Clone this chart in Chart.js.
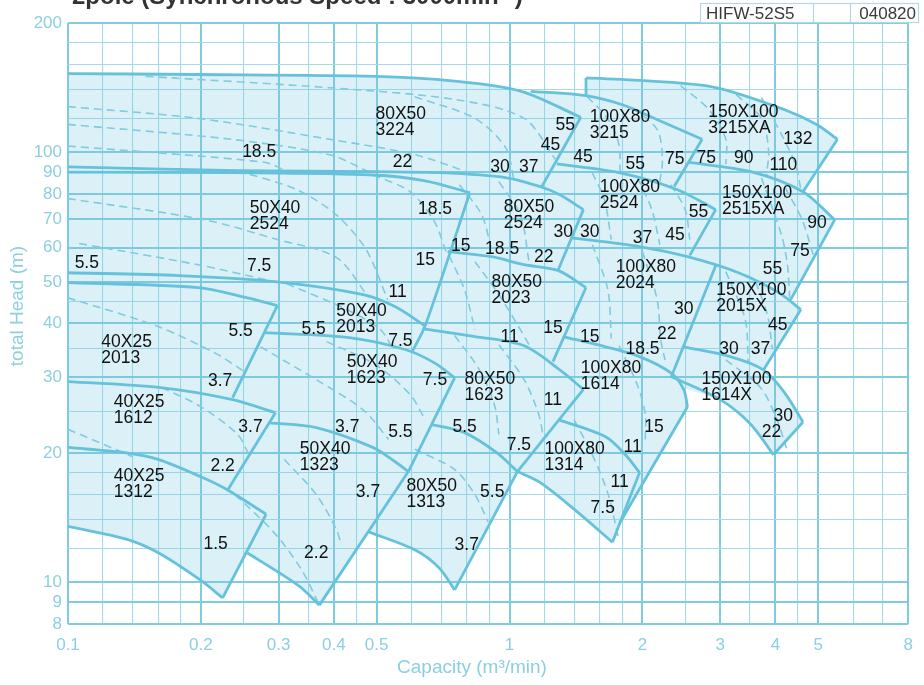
<!DOCTYPE html>
<html>
<head>
<meta charset="utf-8">
<script src="https://cdn.jsdelivr.net/npm/chart.js@4.4.1/dist/chart.umd.min.js"></script>
<style>
html,body{margin:0;padding:0;background:#fff;}
#wrap{width:924px;height:685px;position:relative;}
</style>
</head>
<body>
<div id="wrap"><canvas id="c" width="924" height="685"></canvas></div>
<script>
// axis grid (capacity m3/min, head m)
const xGrid = [0.1,0.12,0.14,0.16,0.18,0.2,0.25,0.3,0.35,0.4,0.45,0.5,0.6,0.7,0.8,0.9,1,1.2,1.4,1.6,1.8,2,2.5,3,3.5,4,4.5,5,6,7,8];
const xLabeled = [0.1,0.2,0.3,0.4,0.5,1,2,3,4,5,8];
const yGrid = [8,9,10,12,14,16,18,20,25,30,35,40,45,50,60,70,80,90,100,120,140,160,180,200];
const yLabeled = [8,9,10,20,30,40,50,60,70,80,90,100,200];

// pump range outlines [Q, H]
const top3224 = [[0.1,152.5],[0.197,151.8],[0.497,150.3],[0.751,146.5],[1.063,138.7],[1.45,120.7]];
const right3224 = [[1.45,120.7],[1.18,82.8]];
const bot3224 = [[0.1,92.5],[0.242,90.7],[0.497,90.2],[0.7,89.7],[0.985,87.3],[1.18,83.1],[1.3,79.7],[1.47,73.6]];
const top5040_2524 = [[0.1,90.0],[0.242,89.7],[0.49,88.6],[0.644,85.9],[0.813,80.6]];
const right5040_2524 = [[0.813,80.6],[0.644,39.5],[0.6,34.2]];
const bot5040_2524 = [[0.1,52.5],[0.178,51.7],[0.298,50.0],[0.466,46.7],[0.55,43.8],[0.644,39.5]];
const top4025_2013 = [[0.1,49.8],[0.197,48.5],[0.255,45.9],[0.298,44.0]];
const right4025_2013 = [[0.298,44.0],[0.236,26.9]];
const bot4025_2013 = [[0.1,29.3],[0.1605,28.4],[0.236,26.6],[0.295,24.8]];
const right4025_1612 = [[0.295,24.8],[0.23,16.4]];
const bot4025_1612 = [[0.1,20.6],[0.1355,20.0],[0.1605,19.3],[0.2,17.6],[0.23,16.4],[0.281,14.4]];
const right4025_1312 = [[0.281,14.4],[0.224,9.2]];
const bot4025_1312 = [[0.1,13.5],[0.1355,12.6],[0.1605,11.7],[0.2,10.1],[0.224,9.2]];
const bot5040_2013 = [[0.278,38.1],[0.433,37.1],[0.58,34.8],[0.676,32.4],[0.751,29.9]];
const right5040_1623 = [[0.751,29.9],[0.59,18.1]];
const bot5040_1623 = [[0.286,23.5],[0.365,22.9],[0.49,20.6],[0.55,19.1],[0.59,18.1]];
const right5040_1323 = [[0.59,18.1],[0.371,8.85]];
const bot5040_1323 = [[0.255,11.7],[0.302,10.5],[0.338,9.7],[0.371,8.85]];
const right8050_2524 = [[1.47,73.6],[1.29,53.4]];
const bot8050_2524 = [[0.724,58.8],[0.91,57.2],[1.079,54.8],[1.29,53.1],[1.49,48.5]];
const right8050_2023 = [[1.49,48.5],[1.254,32.6]];
const bot8050_2023 = [[0.635,38.9],[0.835,37.3],[1.079,35.5],[1.3,31.2],[1.47,28.1]];
const right8050_1623 = [[1.47,28.1],[1.042,18.1]];
const bot8050_1623 = [[0.664,23.3],[0.791,22.3],[0.937,20.0],[1.042,18.1]];
const right8050_1313 = [[1.042,18.1],[0.751,9.6]];
const bot8050_1313 = [[0.48,13.1],[0.61,11.9],[0.693,10.8],[0.751,9.6]];
const top10080_3215 = [[1.117,138.7],[1.49,135.5],[1.8,129.1],[2.1,120.7],[2.73,107.3]];
const right10080_3215 = [[2.73,107.3],[2.36,83.3]];
const bot10080_3215 = [[1.28,94.0],[1.77,89.7],[2.4,81.9],[2.93,73.6]];
const right10080_2524 = [[2.93,73.6],[2.56,57.6]];
const bot10080_2524 = [[1.38,63.3],[1.97,60.4],[2.53,57.2],[3.3,52.5],[4.07,47.2],[4.57,43.1]];
const right10080_2024 = [[2.93,54.5],[2.32,29.9]];
const bot10080_2024 = [[1.32,37.3],[1.65,35.3],[1.97,33.5],[2.32,30.7],[2.48,28.1],[2.53,25.6]];
const right10080_1614 = [[2.53,25.6],[1.78,13.8]];
const bot10080_1614 = [[1.29,23.9],[1.65,21.8],[1.83,19.8],[1.97,18.0]];
const right10080_1314 = [[1.97,18.0],[1.71,12.4]];
const bot10080_1314 = [[1.042,18.1],[1.17,17.1],[1.4,14.8],[1.71,12.4]];
const left150_3215 = [[1.49,135.5],[1.49,149.0]];
const top150_3215 = [[1.49,149.0],[2.1,146.5],[2.93,141.5],[4.2,125.7],[4.97,116],[5.53,107.3]];
const right150_3215 = [[5.53,107.3],[4.62,81.0]];
const bot150_3215 = [[2.53,94.9],[3.52,90.2],[4.62,81.0],[5.45,69.7]];
const right150_2515 = [[5.45,69.7],[4.33,45.4]];
const right150_2015 = [[4.57,43.1],[3.76,31.2]];
const bot150_2015 = [[2.48,35.3],[3.16,33.5],[3.76,31.2],[4.2,27.6],[4.62,23.6]];
const right150_1614 = [[4.62,23.6],[3.96,19.8]];
const bot150_1614 = [[2.32,30.1],[3.0,26.6],[3.52,23.3],[3.96,19.8]];

// whole shaded area
const shaded = [[0.1,152.5],[0.197,151.8],[0.497,150.3],[0.751,146.5],[1.063,138.7],[1.117,138.7],[1.49,135.5],
  [1.49,149.0],[2.1,146.5],[2.93,141.5],[4.2,125.7],[4.97,116],[5.53,107.3],[4.62,81.0],[5.45,69.7],[4.33,45.4],
  [4.57,43.1],[3.76,31.2],[4.2,27.6],[4.62,23.6],[3.96,19.8],[3.52,23.3],[3.0,26.6],[2.48,28.3],[2.53,25.6],
  [1.78,13.8],[1.71,12.4],[1.4,14.8],[1.17,17.1],[1.042,18.1],[0.751,9.6],[0.693,10.8],[0.61,11.9],[0.48,13.1],
  [0.371,8.85],[0.338,9.7],[0.302,10.5],[0.255,11.7],[0.224,9.2],[0.2,10.1],[0.1605,11.7],[0.1355,12.6],[0.1,13.5]];

// motor kW boundaries (dashed)
const dA3224 = [[0.150,150.3],[0.391,141.4],[0.751,132.8],[1.079,120],[1.27,96.4]];
const dB3224 = [[0.1,127.8],[0.197,120],[0.391,107.3],[0.61,98.8],[0.835,88.8]];
const dC3224 = [[0.1,116.2],[0.234,107.3],[0.391,98.8],[0.48,90.2]];
const dD3224 = [[0.1,103.5],[0.278,94.9],[0.313,90.5]];
const dE3224 = [[0.61,134.7],[0.835,120],[0.98,102.6],[1.023,86.4]];
const dE1 = [[0.1,78.1],[0.204,69.7],[0.298,62.7],[0.405,57],[0.48,46]];
const dE2 = [[0.106,61.4],[0.197,54.8],[0.29,50.2]];
const dF = [[0.242,90.7],[0.33,81.9],[0.405,71.6],[0.473,59.5],[0.53,45.4]];
const dG = [[0.49,88.8],[0.596,81],[0.676,69],[0.718,58.8]];
const dI1 = [[0.1,45.9],[0.1605,39.3],[0.218,33.9],[0.251,30.9]];
const dJ1 = [[0.313,49.5],[0.428,43.1],[0.51,38.7],[0.545,34.8]];
const dK1 = [[0.163,28.4],[0.2,25.6],[0.242,22.1],[0.257,19.8]];
const dK2 = [[0.1,22.7],[0.14,19.6]];
const dL1 = [[0.239,16],[0.293,13.05],[0.338,10.7],[0.371,8.85]];
const dL2 = [[0.309,19.3],[0.365,16],[0.405,13.3],[0.416,12.2]];
const dM1 = [[0.273,35.3],[0.365,29.6],[0.466,25.2],[0.532,21.5]];
const dM2 = [[0.385,36.3],[0.497,32.1],[0.596,27.3],[0.644,23.9]];
const dN1 = [[0.77,84.1],[0.865,71.6],[0.91,59.5]];
const dN2 = [[0.946,85.5],[1.058,71.6],[1.107,55.7]];
const dO1 = [[0.835,55.7],[0.946,46.7],[1.058,38.7],[1.107,35.7]];
const dO2 = [[0.73,57.5],[0.791,47.9],[0.835,38.7]];
const dP1 = [[0.751,37.5],[0.855,31.2],[0.924,25.9],[0.946,22.1]];
const dP2 = [[0.946,35.7],[1.079,29.6],[1.164,24.6],[1.195,21.5]];
const dQ1 = [[0.61,20.4],[0.751,18.3],[0.835,16.0],[0.895,13.8]];
const dR1 = [[1.5,134.7],[1.668,120],[1.77,104.2],[1.78,90.2]];
const dR2 = [[1.9,127.1],[2.16,113],[2.22,96.4],[2.19,85.5]];
const dT1 = [[2.44,143],[2.83,125.7],[3.09,107.3],[3.09,93.9]];
const dT2 = [[3.26,136.3],[3.72,120],[3.86,101.5],[3.82,88.3]];
const dT3 = [[3.72,134.1],[4.13,110],[4.44,93.9],[4.57,81.9]];
const dU1 = [[1.54,89.7],[1.64,77.7],[1.7,62.7]];
const dU2 = [[1.95,87.4],[2.1,73.6],[2.19,61]];
const dU3 = [[2.32,84.1],[2.5,73.6],[2.56,62.7]];
const dV1 = [[3.72,87.3],[4.13,64.2],[4.26,54.8],[4.31,45.9]];
const dV2 = [[4.21,82.8],[4.6,69.7],[4.87,57.9]];
const dW1 = [[1.54,61],[1.67,47.9],[1.7,36.9]];
const dW2 = [[2.0,58.8],[2.16,45.4],[2.2,36.7],[2.25,32.9]];
const dX1 = [[3.09,52.8],[3.42,40.8],[3.47,32.6]];
const dX2 = [[3.61,50],[3.84,41.8],[3.94,34.8]];
const dY1 = [[1.77,35.5],[1.947,28.8],[2.03,24.6],[2.03,21.5]];
const dZ1 = [[3.09,32.9],[3.7,28.4],[4.02,24.1],[4.24,20.5]];
const dAA1 = [[1.4,23.9],[1.54,19.8],[1.67,16.1],[1.77,12.5]];

// motor kW texts [text, Q, H]
const kwLabels = [
  ['18.5',0.271,100],['22',0.572,95],['30',0.952,92.6],['37',1.105,92.6],['45',1.238,104.2],['55',1.337,116],
  ['45',1.467,97.7],['55',1.927,93.9],['75',2.367,96.7],['75',2.79,97.2],['90',3.39,97.2],['110',4.17,93.2],['132',4.5,107.3],
  ['5.5',0.1103,55.4],['7.5',0.271,54.5],['11',0.558,47.4],['15',0.644,56.3],['18.5',0.678,73.6],
  ['15',0.775,60.4],['18.5',0.962,59.5],['22',1.195,57],['30',1.323,65.1],
  ['30',1.52,65.1],['37',2.0,63.3],['45',2.37,64.2],['55',2.68,72.5],
  ['55',3.94,53.4],['75',4.55,58.8],['90',4.97,68.6],
  ['5.5',0.246,38.3],['3.7',0.221,29.3],['5.5',0.36,38.7],['7.5',0.566,36.3],
  ['11',1.0,37.1],['15',1.254,39.1],['15',1.52,37.1],['18.5',2.0,34.8],['22',2.27,37.7],['30',2.48,43.1],
  ['30',3.14,34.8],['37',3.70,34.8],['45',4.05,39.7],
  ['3.7',0.429,23.0],['5.5',0.566,22.4],['7.5',0.678,29.6],['5.5',0.791,23.0],['11',1.254,26.6],['7.5',1.05,20.9],
  ['3.7',0.259,22.9],['2.2',0.224,18.6],['1.5',0.216,12.3],['3.7',0.478,16.2],['2.2',0.365,11.7],
  ['5.5',0.914,16.2],['3.7',0.8,12.2],['15',2.125,23.0],['11',1.9,20.6],['11',1.776,17.1],['7.5',1.626,14.9],
  ['30',4.17,24.3],['22',3.92,22.3]
];
// pump model texts [line1, line2, Q (left edge), H (middle)]
const pumpLabels = [
  ['80X50','3224',0.497,117.9],['100X80','3215',1.52,116],['150X100','3215XA',2.82,119],
  ['100X80','2524',1.6,79.7],['150X100','2515XA',3.03,77.2],['50X40','2524',0.258,71.2],
  ['80X50','2524',0.97,71.6],['100X80','2024',1.74,51.7],['80X50','2023',0.91,47.9],
  ['150X100','2015X',2.94,45.9],['50X40','2013',0.405,41],['40X25','2013',0.119,34.6],
  ['50X40','1623',0.428,31.1],['80X50','1623',0.791,28.4],['100X80','1614',1.45,30.1],
  ['150X100','1614X',2.72,28.5],['40X25','1612',0.127,25.2],['50X40','1323',0.335,19.5],
  ['100X80','1314',1.2,19.6],['40X25','1312',0.127,16.9],['80X50','1313',0.584,16.0]
];

const solidLines = [top3224,right3224,bot3224,top5040_2524,right5040_2524,bot5040_2524,top4025_2013,right4025_2013,
  bot4025_2013,right4025_1612,bot4025_1612,right4025_1312,bot4025_1312,bot5040_2013,right5040_1623,bot5040_1623,
  right5040_1323,bot5040_1323,right8050_2524,bot8050_2524,right8050_2023,bot8050_2023,right8050_1623,bot8050_1623,
  right8050_1313,bot8050_1313,top10080_3215,right10080_3215,bot10080_3215,right10080_2524,bot10080_2524,
  right10080_2024,bot10080_2024,right10080_1614,bot10080_1614,right10080_1314,bot10080_1314,left150_3215,
  top150_3215,right150_3215,bot150_3215,right150_2515,right150_2015,bot150_2015,right150_1614,bot150_1614];
const dashedLines = [dA3224,dB3224,dC3224,dD3224,dE3224,dE1,dE2,dF,dG,dI1,dJ1,dK1,dK2,dL1,dL2,dM1,dM2,dN1,dN2,
  dO1,dO2,dP1,dP2,dQ1,dR1,dR2,dT1,dT2,dT3,dU1,dU2,dU3,dV1,dV2,dW1,dW2,dX1,dX2,dY1,dZ1,dAA1];

const LINE = '#66c2db';
const DASH = '#7fcbe0';
const AXIS = '#8ccfe0';
const FONT = '"Liberation Sans", Arial, sans-serif';

const pts = a => a.map(p => ({x: p[0], y: p[1]}));
const datasets = [];
datasets.push({data: pts(shaded), fill: 'shape', backgroundColor: 'rgba(120,200,225,0.26)',
  borderColor: 'rgba(0,0,0,0)', borderWidth: 0, pointRadius: 0, tension: 0});
solidLines.forEach(a => datasets.push({data: pts(a), borderColor: LINE, borderWidth: 2.8,
  pointRadius: 0, fill: false, tension: a.length > 2 ? 0.3 : 0}));
dashedLines.forEach(a => datasets.push({data: pts(a), borderColor: DASH, borderWidth: 1.6,
  borderDash: [8, 5], pointRadius: 0, fill: false, tension: a.length > 2 ? 0.3 : 0}));

const labelPlugin = {
  id: 'labels',
  afterDatasetsDraw(chart) {
    const {ctx, scales: {x, y}} = chart;
    ctx.save();
    ctx.fillStyle = '#111';
    ctx.font = '17.5px ' + FONT;
    ctx.textAlign = 'center';
    ctx.textBaseline = 'middle';
    kwLabels.forEach(([t, q, h]) => ctx.fillText(t, x.getPixelForValue(q), y.getPixelForValue(h)));
    ctx.textAlign = 'left';
    pumpLabels.forEach(([a, b, q, h]) => {
      const px = x.getPixelForValue(q), py = y.getPixelForValue(h);
      ctx.fillText(a, px, py - 8);
      ctx.fillText(b, px, py + 8);
    });
    ctx.restore();
  }
};

const framePlugin = {
  id: 'frame',
  afterDraw(chart) {
    const ctx = chart.ctx;
    ctx.save();
    // title cut by the top edge
    ctx.fillStyle = '#333';
    ctx.font = 'bold 24px ' + FONT;
    ctx.textAlign = 'left';
    ctx.textBaseline = 'alphabetic';
    ctx.fillText('2pole (Synchronous Speed : 3000min\u207B\u00B9)', 72, 4);
    // model box
    ctx.strokeStyle = '#b5d9e4';
    ctx.lineWidth = 1.2;
    ctx.strokeRect(700.5, 3.5, 218, 19);
    ctx.beginPath();
    ctx.moveTo(813.5, 3.5); ctx.lineTo(813.5, 22.5);
    ctx.moveTo(850.5, 3.5); ctx.lineTo(850.5, 22.5);
    ctx.stroke();
    ctx.fillStyle = '#3a3a3a';
    ctx.font = '17px ' + FONT;
    ctx.textBaseline = 'middle';
    ctx.fillText('HIFW-52S5', 706, 14);
    ctx.textAlign = 'right';
    ctx.fillText('040820', 916, 14);
    // axis titles
    ctx.fillStyle = AXIS;
    ctx.font = '19px ' + FONT;
    ctx.textAlign = 'center';
    ctx.fillText('Capacity (m\u00B3/min)', 472, 668);
    ctx.translate(18, 306);
    ctx.rotate(-Math.PI / 2);
    ctx.fillText('total Head (m)', 0, 0);
    ctx.restore();
  }
};

const gridWidth = list => ctx => (ctx.tick && list.includes(ctx.tick.value)) ? 2 : 1.1;
const gridColor = list => ctx => (ctx.tick && list.includes(ctx.tick.value)) ? '#7fcbe0' : '#a3d9e8';

new Chart(document.getElementById('c'), {
  type: 'line',
  data: {datasets: datasets},
  options: {
    responsive: false,
    animation: false,
    layout: {padding: {top: 23, right: 6, left: 0, bottom: 0}},
    plugins: {legend: {display: false}, tooltip: {enabled: false}, filler: {drawTime: 'beforeDatasetsDraw'}},
    scales: {
      x: {
        type: 'logarithmic', min: 0.1, max: 8, bounds: 'data',
        afterBuildTicks: s => { s.ticks = xGrid.map(v => ({value: v})); },
        afterFit: s => { s.height = 61; },
        ticks: {autoSkip: false, maxRotation: 0, color: AXIS, padding: 11, font: {family: FONT, size: 17},
          callback: v => xLabeled.includes(v) ? String(v) : ''},
        grid: {color: gridColor(xLabeled), lineWidth: gridWidth(xLabeled), drawTicks: false},
        border: {display: false}
      },
      y: {
        type: 'logarithmic', min: 8, max: 200, bounds: 'data',
        afterBuildTicks: s => { s.ticks = yGrid.map(v => ({value: v})); },
        afterFit: s => { s.width = 68; },
        ticks: {autoSkip: false, color: AXIS, padding: 6, font: {family: FONT, size: 17},
          callback: v => yLabeled.includes(v) ? String(v) : ''},
        grid: {color: gridColor(yLabeled), lineWidth: gridWidth(yLabeled), drawTicks: false},
        border: {display: false}
      }
    }
  },
  plugins: [labelPlugin, framePlugin]
});
</script>
</body>
</html>
